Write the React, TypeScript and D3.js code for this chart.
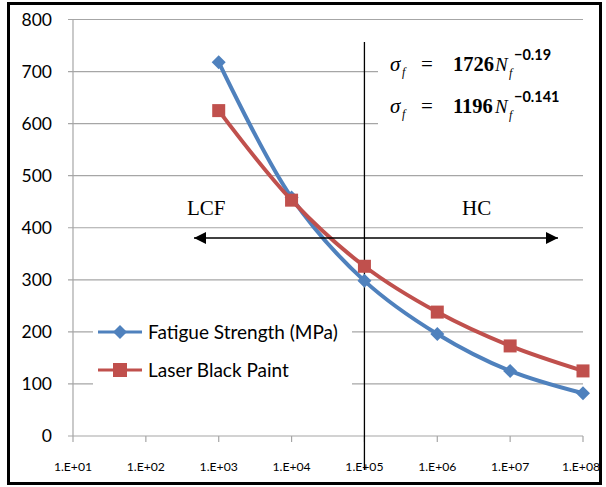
import React from "react";
import * as d3 from "d3";

const cycles = [1e3, 1e4, 1e5, 1e6, 1e7, 1e8];
const fatigueStrength = [718, 458, 298, 196, 125, 82];
const laserBlackPaint = [625, 453, 326, 238, 173, 125];
const xTicks = [1e1, 1e2, 1e3, 1e4, 1e5, 1e6, 1e7, 1e8];
const xTickLabels = ["1.E+01", "1.E+02", "1.E+03", "1.E+04", "1.E+05", "1.E+06", "1.E+07", "1.E+08"];
const yTicks = [0, 100, 200, 300, 400, 500, 600, 700, 800];
const seriesNames = ["Fatigue Strength (MPa)", "Laser Black Paint"];
const eqCoefs = ["1726", "1196"];
const eqExps = ["−0.19", "−0.141"];

const BLUE = "#4F81BD";
const RED = "#C0504D";
const GRID = "#A6A6A6";

export default function App() {
  const x = d3.scaleLog().domain([1e1, 1e8]).range([73, 583]);
  const y = d3.scaleLinear().domain([0, 800]).range([436, 19.5]);
  const line = d3
    .line<[number, number]>()
    .x((d) => x(d[0]))
    .y((d) => y(d[1]))
    .curve(d3.curveCatmullRom.alpha(0.5));
  const fPts = cycles.map((c, i) => [c, fatigueStrength[i]] as [number, number]);
  const lPts = cycles.map((c, i) => [c, laserBlackPaint[i]] as [number, number]);
  const font = "Lato, 'Open Sans', sans-serif";
  const serif = "'Liberation Serif', 'DejaVu Serif', serif";

  const diamond = (cx: number, cy: number, r: number) =>
    `M${cx},${cy - r}L${cx + r},${cy}L${cx},${cy + r}L${cx - r},${cy}Z`;

  const vx = x(1e5);

  return (
    <svg width={606} height={487} style={{ position: "absolute", left: 0, top: 0 }}>
      <rect x={0} y={0} width={606} height={487} fill="#fff" />
      {/* gridlines */}
      {yTicks.map((t) => (
        <line key={"g" + t} x1={68} x2={583} y1={y(t)} y2={y(t)} stroke={GRID} strokeWidth={1.2} />
      ))}
      {/* y axis */}
      <line x1={73} x2={73} y1={y(800)} y2={y(0)} stroke={GRID} strokeWidth={1.2} />
      {/* x ticks */}
      {xTicks.map((t) => (
        <line key={"xt" + t} x1={x(t)} x2={x(t)} y1={y(0)} y2={y(0) + 6} stroke={GRID} strokeWidth={1.2} />
      ))}
      {yTicks.map((t) => (
        <text key={"yl" + t} x={52} y={y(t) + 6} textAnchor="end" fontFamily={font} fontSize={17.5} fill="#000">
          {t}
        </text>
      ))}
      {xTicks.map((t, i) => (
        <text key={"xl" + t} x={x(t) - (i === xTicks.length - 1 ? 2 : 0)} y={471} textAnchor="middle" fontFamily={font} fontSize={12.2} fill="#000">
          {xTickLabels[i]}
        </text>
      ))}
      {/* equation box background */}
      <rect x={378} y={40} width={205} height={92} fill="#fff" />
      {/* legend background */}
      <rect x={93} y={312} width={259} height={82} fill="#fff" />
      {/* vertical divider */}
      <line x1={vx} x2={vx} y1={42} y2={470} stroke="#000" strokeWidth={1.3} />
      {/* series */}
      <path d={line(fPts) || ""} fill="none" stroke={BLUE} strokeWidth={4} />
      <path d={line(lPts) || ""} fill="none" stroke={RED} strokeWidth={4} />
      {fPts.map((p, i) => (
        <path key={"fm" + i} d={diamond(x(p[0]), y(p[1]), 7)} fill={BLUE} />
      ))}
      {lPts.map((p, i) => (
        <rect key={"lm" + i} x={x(p[0]) - 6.5} y={y(p[1]) - 6.5} width={13} height={13} fill={RED} />
      ))}
      {/* arrow */}
      <defs>
        <marker id="ah" viewBox="0 0 10 10" refX={10} refY={5} markerWidth={12} markerHeight={12} markerUnits="userSpaceOnUse" orient="auto-start-reverse">
          <path d="M0,0L10,5L0,10Z" fill="#000" />
        </marker>
      </defs>
      <line x1={194} x2={558} y1={238} y2={238} stroke="#000" strokeWidth={1.5} markerStart="url(#ah)" markerEnd="url(#ah)" />
      <text x={187} y={215} fontFamily={serif} fontSize={21} fill="#000">LCF</text>
      <text x={462} y={215} fontFamily={serif} fontSize={21} fill="#000">HC</text>
      {/* equations */}
      {eqCoefs.map((c, i) => {
        const b = 71 + i * 42;
        return (
          <text key={"eq" + i} x={390} y={b} fontFamily={serif} fontSize={21} fill="#000">
            <tspan fontStyle="italic">σ</tspan>
            <tspan x={402} y={b + 5} fontSize={12} fontStyle="italic">f</tspan>
            <tspan x={421} y={b}>=</tspan>
            <tspan x={453} y={b} fontSize={20.5} fontWeight="bold">{c}</tspan>
            <tspan x={495} y={b} fontSize={19} fontStyle="italic">N</tspan>
            <tspan x={509} y={b + 6} fontSize={12} fontStyle="italic">f</tspan>
            <tspan x={514} y={b - 11} fontFamily={font} fontSize={14.5} fontWeight="bold">{eqExps[i]}</tspan>
          </text>
        );
      })}
      {/* legend */}
      <line x1={98} x2={142} y1={332} y2={332} stroke={BLUE} strokeWidth={3} />
      <path d={diamond(120, 332, 7)} fill={BLUE} />
      <text x={148} y={339} fontFamily={font} fontSize={19} fill="#000">{seriesNames[0]}</text>
      <line x1={98} x2={142} y1={370} y2={370} stroke={RED} strokeWidth={3} />
      <rect x={113} y={363} width={14} height={14} fill={RED} />
      <text x={148} y={377} fontFamily={font} fontSize={19} fill="#000">{seriesNames[1]}</text>
      {/* frame */}
      <rect x={8.5} y={3.5} width={592} height={480} fill="none" stroke="#000" strokeWidth={3} />
    </svg>
  );
}
